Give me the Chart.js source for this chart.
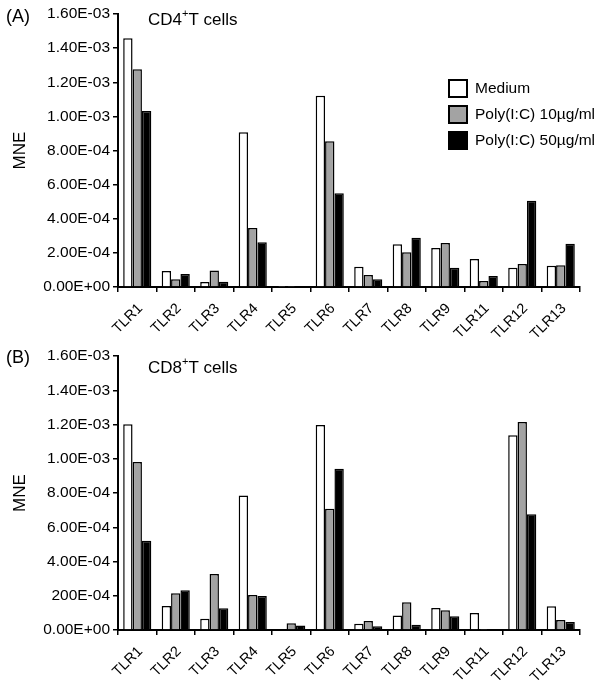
<!DOCTYPE html>
<html>
<head>
<meta charset="utf-8">
<script src="https://cdn.jsdelivr.net/npm/chart.js@4.4.1/dist/chart.umd.min.js"></script>
<style>
  html, body { margin: 0; padding: 0; background: #fff; }
  .wrap { position: relative; width: 602px; height: 685px; }
  canvas { display: block; position: absolute; left: 0; }
  #chartCD4 { top: 0; }
  #chartCD8 { top: 330px; }
</style>
</head>
<body>
<div class="wrap">
  <canvas id="chartCD4" width="602" height="350"></canvas>
  <canvas id="chartCD8" width="602" height="355"></canvas>
</div>
<script>
// ─── Data ────────────────────────────────────────────────────────────────────
const categories  = ['TLR1', 'TLR2', 'TLR3', 'TLR4', 'TLR5', 'TLR6', 'TLR7', 'TLR8', 'TLR9', 'TLR11', 'TLR12', 'TLR13'];
const seriesNames = ['Medium', 'Poly(I:C) 10µg/ml', 'Poly(I:C) 50µg/ml'];

const cd4Medium = [1.458e-3, 9.4e-5, 2.9e-5, 9.07e-4, 2e-6, 1.121e-3, 1.19e-4, 2.50e-4, 2.29e-4, 1.64e-4, 1.13e-4, 1.25e-4];
const cd4Low    = [1.276e-3, 4.5e-5, 9.6e-5, 3.46e-4, 2e-6, 8.54e-4, 7.0e-5, 2.03e-4, 2.58e-4, 3.5e-5, 1.35e-4, 1.27e-4];
const cd4High   = [1.032e-3, 7.6e-5, 3.1e-5, 2.62e-4, 2e-6, 5.49e-4, 4.5e-5, 2.89e-4, 1.13e-4, 6.4e-5, 5.06e-4, 2.54e-4];

const cd8Medium = [1.201e-3, 1.40e-4, 6.6e-5, 7.86e-4, 3e-6, 1.197e-3, 3.7e-5, 8.4e-5, 1.28e-4, 9.9e-5, 1.137e-3, 1.38e-4];
const cd8Low    = [9.81e-4, 2.14e-4, 3.27e-4, 2.04e-4, 3.9e-5, 7.08e-4, 5.3e-5, 1.62e-4, 1.15e-4, 2e-6, 1.215e-3, 5.8e-5];
const cd8High   = [5.21e-4, 2.32e-4, 1.27e-4, 1.99e-4, 2.7e-5, 9.42e-4, 2.2e-5, 3.1e-5, 8.0e-5, 2e-6, 6.76e-4, 4.7e-5];

const cd4Ticks = ['0.00E+00', '2.00E-04', '4.00E-04', '6.00E-04', '8.00E-04', '1.00E-03', '1.20E-03', '1.40E-03', '1.60E-03'];
const cd8Ticks = ['0.00E+00', '200E-04', '4.00E-04', '6.00E-04', '8.00E-04', '1.00E-03', '1.20E-03', '1.40E-03', '1.60E-03'];

// ─── Styling ─────────────────────────────────────────────────────────────────
const FONT   = '"Liberation Sans", Arial, sans-serif';
const FILLS  = ['#ffffff', '#a3a3a3', '#000000'];

// panel letter, title (with superscript) and legend, drawn on the canvas
const panelText = {
  id: 'panelText',
  afterDraw(chart, args, o) {
    const ctx = chart.ctx;
    ctx.save();
    ctx.fillStyle = '#000';
    ctx.textBaseline = 'middle';
    ctx.textAlign = 'left';

    ctx.font = `18px ${FONT}`;
    ctx.fillText(o.letter, 6, o.letterY);

    // title: CD4 + superscript "+" + "T cells"
    let x = 148;
    ctx.font = `17px ${FONT}`;
    ctx.fillText(o.cell, x, o.titleY);
    x += ctx.measureText(o.cell).width;
    ctx.font = `11px ${FONT}`;
    ctx.fillText('+', x, o.titleY - 6);
    x += ctx.measureText('+').width;
    ctx.font = `17px ${FONT}`;
    ctx.fillText('T cells', x, o.titleY);

    if (o.legend) {
      ctx.font = `15.5px ${FONT}`;
      chart.data.datasets.forEach((ds, i) => {
        const by = 80 + i * 26;
        ctx.fillStyle = ds.backgroundColor;
        ctx.fillRect(449, by, 18, 17);
        ctx.strokeStyle = '#000';
        ctx.lineWidth = 2;
        ctx.strokeRect(449, by, 18, 17);
        ctx.fillStyle = '#000';
        ctx.fillText(ds.label, 475, by + 9);
      });
    }
    ctx.restore();
  }
};

function makePanel(canvasId, series, tickLabels, p) {
  return new Chart(document.getElementById(canvasId), {
    type: 'bar',
    data: {
      labels: categories,
      datasets: series.map((vals, i) => ({
        label: seriesNames[i],
        data: vals,
        backgroundColor: FILLS[i],
        borderColor: '#000',
        borderWidth: 1.5,
        borderSkipped: 'bottom',
        categoryPercentage: 0.73,
        barPercentage: 1.0,
      }))
    },
    options: {
      responsive: false,
      animation: false,
      layout: { padding: { left: 0, right: 22, top: p.top, bottom: 0 } },
      plugins: {
        legend: { display: false },
        tooltip: { enabled: false },
        panelText: p.text,
      },
      scales: {
        x: {
          grid: { drawOnChartArea: false, offset: true, color: '#000', lineWidth: 1.5, tickLength: 5 },
          border: { color: '#000', width: 2 },
          ticks: {
            color: '#000', font: { family: FONT, size: 14.5 },
            minRotation: 45, maxRotation: 45, padding: 8, labelOffset: 3,
          },
          afterFit: s => { s.height = p.xHeight; },
        },
        y: {
          min: 0, max: 1.6e-3,
          grid: { drawOnChartArea: false, color: '#000', lineWidth: 1.5, tickLength: 5 },
          border: { color: '#000', width: 2 },
          ticks: {
            stepSize: 2e-4, color: '#000', padding: 3,
            font: { family: FONT, size: 15.5 },
            callback: (v, i) => tickLabels[i],
          },
          title: { display: true, text: 'MNE', color: '#000', font: { family: FONT, size: 17 }, padding: { top: 10, bottom: 0 } },
          afterFit: s => { s.width = 118; },
        }
      }
    },
    plugins: [panelText]
  });
}

makePanel('chartCD4', [cd4Medium, cd4Low, cd4High], cd4Ticks, {
  top: 14, xHeight: 63,
  text: { letter: '(A)', letterY: 17, cell: 'CD4', titleY: 20, legend: true },
});
makePanel('chartCD8', [cd8Medium, cd8Low, cd8High], cd8Ticks, {
  top: 26, xHeight: 55,
  text: { letter: '(B)', letterY: 28, cell: 'CD8', titleY: 38, legend: false },
});
</script>
</body>
</html>
